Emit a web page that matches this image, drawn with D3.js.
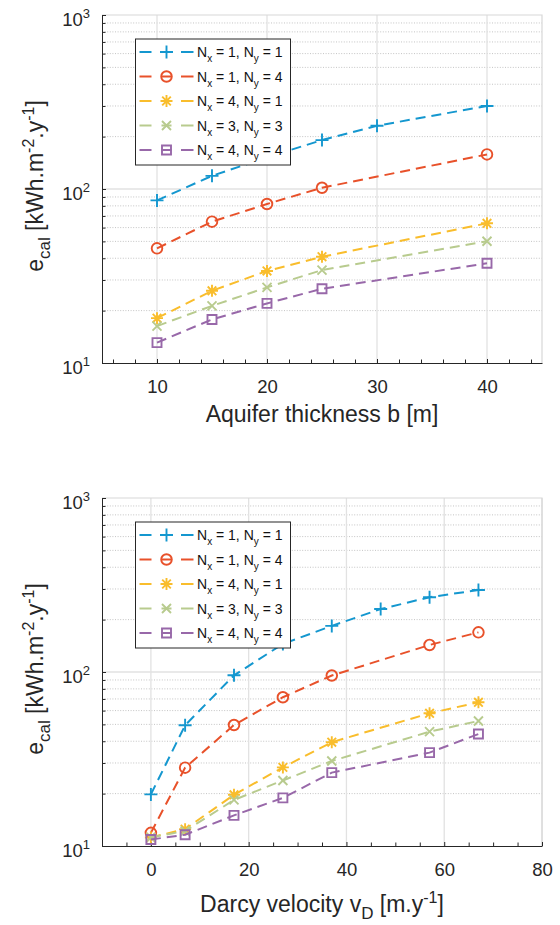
<!DOCTYPE html>
<html><head><meta charset="utf-8">
<script src="https://cdn.jsdelivr.net/npm/d3@7"></script>
<style>
body{margin:0;background:#fff}
svg{display:block;font-family:"Liberation Sans",Arial,Helvetica,sans-serif}
</style>
</head><body>
<svg id="c" width="560" height="925"></svg>
<script>
// ---------- DATA ----------
const thicknessB = [10, 15, 20, 25, 30, 40];
const topNx1Ny1 = [86, 119, 152, 191, 231, 300];
const topNx1Ny4 = [45.6, 64.9, 82, 101.7, null, 158];
const topNx4Ny1 = [18.1, 26.0, 33.8, 40.8, null, 63.5];
const topNx3Ny3 = [16.3, 21.3, 27.2, 34.2, null, 50.1];
const topNx4Ny4 = [13.1, 17.8, 22.0, 26.7, null, 37.4];

const darcyV = [0, 7, 17, 27, 37, 47, 57, 67];
const botNx1Ny1 = [19.8, 49.4, 95.7, 145, 184, 230, 269, 296];
const botNx1Ny4 = [11.9, 28.2, 49.6, 71.6, 95.5, null, 143, 169];
const botNx4Ny1 = [11.2, 12.5, 19.7, 28.3, 39.5, null, 57.9, 67];
const botNx3Ny3 = [11.2, 12.2, 18.4, 23.8, 30.8, null, 45.4, 52.3];
const botNx4Ny4 = [10.9, 11.6, 15.0, 18.9, 26.4, null, 34.4, 44.0];

const seriesNx = [1, 1, 4, 3, 4];
const seriesNy = [1, 4, 1, 3, 4];

const topXTicks = [10, 20, 30, 40];
const botXTicks = [0, 20, 40, 60, 80];
const yTicks = [10, 100, 1000];
const yTickExp = ["1", "2", "3"];

// ---------- STYLE ----------
const colors = ["#1497cf", "#e8512a", "#f9bd2c", "#b8cb8e", "#9868a9"];
const markerPaths = [
  "M-6.5,0H6.5M0,-6.5V6.5",
  "M5.3,0A5.3,5.3 0 1,1 -5.3,0A5.3,5.3 0 1,1 5.3,0Z",
  "M-6,0H6M0,-6V6M-4.3,-4.3L4.3,4.3M-4.3,4.3L4.3,-4.3",
  "M-4.5,-4.5L4.5,4.5M-4.5,4.5L4.5,-4.5",
  "M-4.5,-4.5H4.5V4.5H-4.5Z"
];
const axisColor = "#262626";

const svg = d3.select("#c");

function chart(o) {
  const g = svg.append("g");
  const x = d3.scaleLinear().domain(o.xdom).range([o.l, o.r]);
  const y = d3.scaleLog().domain([10, 1000]).range([o.b, o.t]);
  const yAll = y.ticks();
  const yMinor = yAll.filter(v => !yTicks.includes(v));

  // minor y grid (dotted)
  g.selectAll(".ymg").data(yMinor).join("line")
    .attr("x1", o.l).attr("x2", o.r)
    .attr("y1", d => y(d)).attr("y2", d => y(d))
    .attr("stroke", "#c4c4c4").attr("stroke-width", 1)
    .attr("stroke-dasharray", "1,1.6");
  // major y grid
  g.selectAll(".yg").data([100]).join("line")
    .attr("x1", o.l).attr("x2", o.r)
    .attr("y1", d => y(d)).attr("y2", d => y(d))
    .attr("stroke", "#e2e2e2").attr("stroke-width", 1.3);
  // major x grid
  g.selectAll(".xg").data(o.xticks).join("line")
    .attr("x1", d => x(d)).attr("x2", d => x(d))
    .attr("y1", o.t).attr("y2", o.b)
    .attr("stroke", "#e2e2e2").attr("stroke-width", 1.3);
  // top & right border
  g.append("path").attr("d", `M${o.l},${o.t}H${o.r}V${o.b}`)
    .attr("fill", "none").attr("stroke", "#d8d8d8").attr("stroke-width", 1.2);

  // axes
  const xa = g.append("g").attr("transform", `translate(0,${o.b})`)
    .call(d3.axisBottom(x).tickValues(o.xticks).tickSizeInner(-4).tickSizeOuter(0).tickPadding(17));
  const xm = g.append("g").attr("transform", `translate(0,${o.b})`)
    .call(d3.axisBottom(x).tickValues(o.xminor).tickSizeInner(-3.5).tickSizeOuter(0).tickFormat(""));
  const ya = g.append("g").attr("transform", `translate(${o.l},0)`)
    .call(d3.axisLeft(y).tickValues(yTicks).tickSizeInner(-4).tickSizeOuter(0).tickFormat(""));
  const ym = g.append("g").attr("transform", `translate(${o.l},0)`)
    .call(d3.axisLeft(y).tickValues(yMinor).tickSizeInner(-3.5).tickSizeOuter(0).tickFormat(""));
  [xa, xm, ya, ym].forEach(a => {
    a.selectAll("path,line").attr("stroke", axisColor).attr("stroke-width", 1);
  });
  xm.select(".domain").remove(); ym.select(".domain").remove();
  xa.selectAll("text").attr("font-size", 18.5).attr("fill", axisColor)
    .attr("font-family", '"Liberation Sans",Arial,sans-serif');

  // y tick labels 10^n
  yTicks.forEach((v, i) => {
    const t = g.append("text").attr("x", o.l - 12).attr("y", y(v) + 11)
      .attr("text-anchor", "end").attr("fill", axisColor).attr("font-size", 18.5);
    t.append("tspan").text("10");
    t.append("tspan").attr("dy", -8).attr("font-size", 13).text(yTickExp[i]);
  });

  // series
  o.series.forEach((vals, si) => {
    const pts = o.xs.map((xv, i) => [xv, vals[i]]).filter(p => p[1] != null);
    g.append("path").datum(pts)
      .attr("d", d3.line().x(p => x(p[0])).y(p => y(p[1])))
      .attr("fill", "none").attr("stroke", colors[si]).attr("stroke-width", 2)
      .attr("stroke-dasharray", "10,6");
    g.selectAll(null).data(pts).join("path")
      .attr("transform", p => `translate(${x(p[0])},${y(p[1])})`)
      .attr("d", markerPaths[si]).attr("fill", "none")
      .attr("stroke", colors[si]).attr("stroke-width", 1.9);
  });

  // legend
  const lx = o.l + 33.5, ly = o.t + 24, lw = 155, lh = 126;
  const lg = g.append("g");
  lg.append("rect").attr("x", lx).attr("y", ly).attr("width", lw).attr("height", lh)
    .attr("fill", "#fff").attr("stroke", axisColor).attr("stroke-width", 1);
  seriesNx.forEach((nx, i) => {
    const cy = ly + 13 + i * 24.5;
    [[lx + 4, lx + 16], [lx + 26, lx + 36], [lx + 45.5, lx + 58]].forEach(s => {
      lg.append("line").attr("x1", s[0]).attr("x2", s[1]).attr("y1", cy).attr("y2", cy)
        .attr("stroke", colors[i]).attr("stroke-width", 2);
    });
    lg.append("path").attr("transform", `translate(${lx + 31},${cy})`)
      .attr("d", markerPaths[i]).attr("fill", "none")
      .attr("stroke", colors[i]).attr("stroke-width", 1.9);
    const t = lg.append("text").attr("x", lx + 61.5).attr("y", cy + 5)
      .attr("font-size", 14).attr("fill", "#111");
    t.append("tspan").text("N");
    t.append("tspan").attr("dy", 5).attr("font-size", 10).text("x");
    t.append("tspan").attr("dy", -5).text(` = ${nx}, N`);
    t.append("tspan").attr("dy", 5).attr("font-size", 10).text("y");
    t.append("tspan").attr("dy", -5).text(` = ${seriesNy[i]}`);
  });

  // y label
  const yl = g.append("text")
    .attr("transform", `translate(43,${(o.t + o.b) / 2 - 3}) rotate(-90)`)
    .attr("text-anchor", "middle").attr("font-size", 23).attr("fill", axisColor);
  yl.append("tspan").text("e");
  yl.append("tspan").attr("dy", 7).attr("font-size", 17).text("cal");
  yl.append("tspan").attr("dy", -7).text(" [kWh.m");
  yl.append("tspan").attr("dy", -9).attr("font-size", 16).text("-2");
  yl.append("tspan").attr("dy", 9).text(".y");
  yl.append("tspan").attr("dy", -9).attr("font-size", 16).text("-1");
  yl.append("tspan").attr("dy", 9).text("]");

  // x label
  const xl = g.append("text").attr("x", (o.l + o.r) / 2).attr("y", o.b + o.xlabOff)
    .attr("text-anchor", "middle").attr("font-size", 23).attr("fill", axisColor);
  o.xlab(xl);
}

chart({
  l: 102, r: 542, t: 15, b: 363, xdom: [5, 45],
  xticks: topXTicks, xminor: d3.range(6, 45, 2).filter(v => !topXTicks.includes(v)),
  xs: thicknessB, series: [topNx1Ny1, topNx1Ny4, topNx4Ny1, topNx3Ny3, topNx4Ny4],
  xlabOff: 59,
  xlab: t => t.text("Aquifer thickness b [m]")
});

chart({
  l: 102, r: 542, t: 498, b: 846, xdom: [-10, 80],
  xticks: botXTicks, xminor: d3.range(-5, 80, 5).filter(v => !botXTicks.includes(v)),
  xs: darcyV, series: [botNx1Ny1, botNx1Ny4, botNx4Ny1, botNx3Ny3, botNx4Ny4],
  xlabOff: 66,
  xlab: t => {
    t.append("tspan").text("Darcy velocity v");
    t.append("tspan").attr("dy", 7).attr("font-size", 17).text("D");
    t.append("tspan").attr("dy", -7).text(" [m.y");
    t.append("tspan").attr("dy", -9).attr("font-size", 16).text("-1");
    t.append("tspan").attr("dy", 9).text("]");
  }
});
</script>
</body></html>
